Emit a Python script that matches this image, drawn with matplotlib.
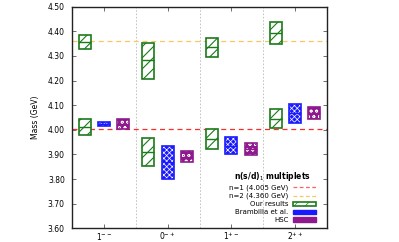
import numpy as np
import matplotlib.pyplot as plt
from matplotlib.patches import Patch
from matplotlib.lines import Line2D

plt.rcParams['font.family'] = 'DejaVu Sans'
plt.rcParams['hatch.linewidth'] = 0.5

# Datos
states = ["1$^{--}$", "0$^{-+}$", "1$^{+-}$", "2$^{++}$"]

# Our results (dos multipletes: n=1 y n=2)
ours_n1_mid = [4.013, 3.910, 3.964, 4.044]
ours_n1_lo = [3.979, 3.855, 3.924, 4.009]
ours_n1_hi = [4.044, 3.967, 4.003, 4.083]
ours_n2_mid = [4.357, 4.282, 4.335, 4.394]
ours_n2_lo = [4.327, 4.207, 4.295, 4.349]
ours_n2_hi = [4.386, 4.353, 4.371, 4.437]

# Brambilla et al.
bram_mid = [4.022, 3.868, 3.936, 4.067]
bram_lo = [4.014, 3.800, 3.901, 4.029]
bram_hi = [4.031, 3.936, 3.970, 4.104]

# HSC
hsc_mid = [4.024, 3.891, 3.924, 4.070]
hsc_lo = [4.005, 3.871, 3.897, 4.045]
hsc_hi = [4.043, 3.913, 3.948, 4.091]

n1_level = 4.005
n2_level = 4.360

green = '#1a7a1a'
blue = '#1a1aff'
purple = '#8e1a8e'

fig = plt.figure(figsize=(3.99, 2.42), dpi=100)
ax = fig.add_axes([0.180, 0.056, 0.640, 0.917])

x = np.arange(len(states))
w = 0.19


def caja(xc, lo, mid, hi, color, hatch, relleno):
    # caja tipo candlestick con línea de la mediana
    lo = np.array(lo)
    hi = np.array(hi)
    if relleno:
        ax.bar(xc, hi - lo, w, bottom=lo, color=color, hatch=hatch,
               edgecolor='white', linewidth=0, zorder=3)
    else:
        with plt.rc_context({'hatch.linewidth': 0.8}):
            ax.bar(xc, hi - lo, w, bottom=lo, facecolor='white', hatch=hatch,
                   edgecolor=color, linewidth=0, zorder=3)
    ax.bar(xc, hi - lo, w, bottom=lo, fill=False, edgecolor=color,
           linewidth=1.2, zorder=4)
    ax.hlines(mid, xc - w / 2, xc + w / 2, color=color, linewidth=1.0, zorder=4)


caja(x + 0.2, ours_n1_lo, ours_n1_mid, ours_n1_hi, green, '///', False)
caja(x + 0.2, ours_n2_lo, ours_n2_mid, ours_n2_hi, green, '///', False)
caja(x + 0.5, bram_lo, bram_mid, bram_hi, blue, 'xxxxxx', True)
caja(x + 0.8, hsc_lo, hsc_mid, hsc_hi, purple, 'ooo', True)

ax.axhline(n1_level, color='#ff2a2a', ls=(0, (4, 3)), lw=0.9, zorder=1)
ax.axhline(n2_level, color='#f7c860', ls=(0, (4, 3)), lw=0.9, zorder=1)

for xv in [1, 2, 3]:
    ax.axvline(xv, color='#bbbbbb', ls=(0, (2, 2)), lw=0.6, zorder=0)

ax.set_xlim(0, 4)
ax.set_ylim(3.60, 4.50)
ax.set_xticks(x + 0.5)
ax.set_xticklabels(states)
ax.set_yticks(np.arange(3.60, 4.501, 0.10))
ax.set_yticklabels(["%.2f" % v for v in np.arange(3.60, 4.501, 0.10)])
ax.tick_params(direction='in', top=True, right=True, labelsize=5.5,
               length=3, width=0.6, color='#555555', pad=5)
ax.tick_params(axis='x', pad=1.5)
ax.set_ylabel("Mass (GeV)", fontsize=5.5, labelpad=6)
for s in ax.spines.values():
    s.set_linewidth(1.0)
    s.set_color('#222222')

handles = [
    Line2D([], [], color='#ff6060', ls=(0, (3, 2)), lw=0.9),
    Line2D([], [], color='#f7c860', ls=(0, (3, 2)), lw=0.9),
    Patch(facecolor='white', edgecolor=green, hatch='///', lw=1.2),
    Patch(facecolor=blue, edgecolor=blue, hatch='xxxxxx', lw=1.0),
    Patch(facecolor=purple, edgecolor=purple, hatch='ooo', lw=1.0),
]
labels = ["n=1 (4.005 GeV)", "n=2 (4.360 GeV)", "Our results",
          "Brambilla et al.", "HSC"]
leg = ax.legend(handles, labels, loc='lower right', bbox_to_anchor=(0.98, -0.005),
                fontsize=5, markerfirst=False, frameon=False,
                title="n(s/d)$_1$ multiplets", handlelength=3.3,
                handleheight=0.7, labelspacing=0.28, handletextpad=0.6)
leg.get_title().set_fontsize(5.5)
leg.get_title().set_fontweight('bold')
for t in leg.get_texts():
    t.set_ha('right')

fig.savefig("out.png", dpi=100)
